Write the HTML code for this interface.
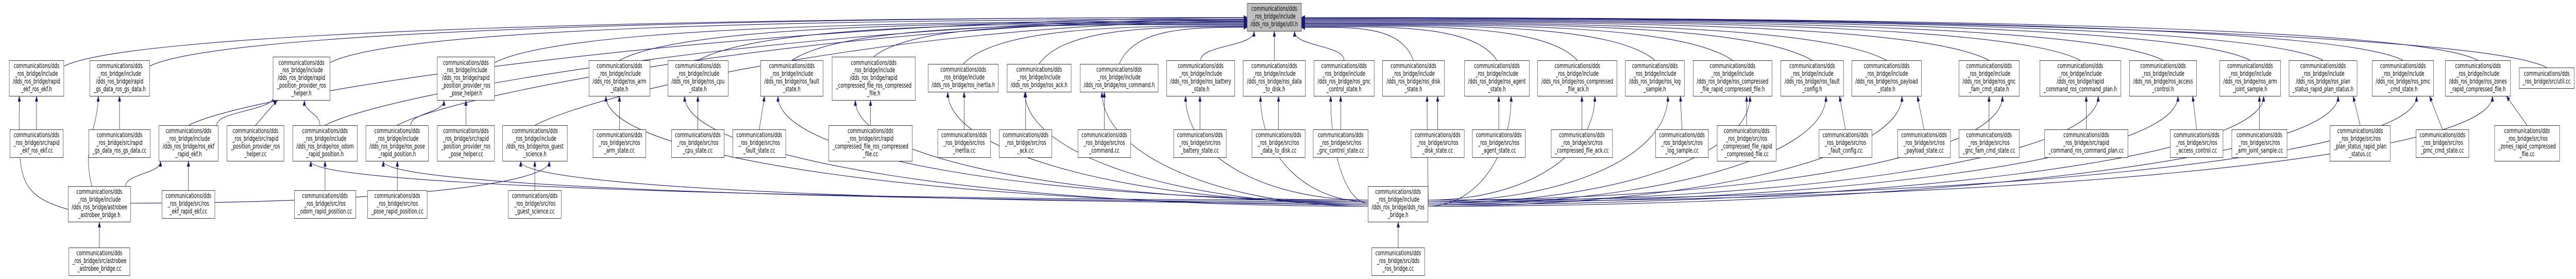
<!DOCTYPE html>
<html><head><meta charset="utf-8">
<style>
html,body{margin:0;padding:0;background:#fff;overflow:hidden;}
#c{position:absolute;left:0;top:0;width:7608px;height:541px;overflow:hidden;background:#fff;transform-origin:0 0;}
svg{position:absolute;left:0;top:0;display:block;}
.n{position:absolute;box-sizing:border-box;border:1px solid #333;background:#fff;display:flex;align-items:center;justify-content:center;text-align:center;white-space:pre;font:13px/14.8px "DejaVu Sans","Liberation Sans",sans-serif;color:#000;overflow:hidden;}
.g{background:#bfbfbf;border-color:#404040;}
.h2{height:41px}.h3{height:55px}.h4{height:70px}.h5{height:85px}
.B2{top:131px}.B3{top:124px}.B4{top:117px}.B5{top:110px}
.C3{top:251px}.C4{top:243px}.D3{top:369px}.D4{top:361px}.E3{top:480px}
</style></head><body><div id="c">
<svg id="s" width="7608" height="541" viewBox="0 0 7608 541" xmlns="http://www.w3.org/2000/svg">
<defs><marker id="a" viewBox="0 0 10 8" refX="10" refY="4" markerWidth="10" markerHeight="8" markerUnits="userSpaceOnUse" orient="auto"><path d="M0,0 L10,4 L0,8 z" fill="#191970" stroke="#191970"/></marker></defs>
<g id="eg" fill="none" stroke="#191970" stroke-width="1.1"></g>
</svg>

<div class="n g" id="U" style="left:3683px;top:6px;width:161px;height:55px">communications/dds
_ros_bridge/include
/dds_ros_bridge/util.h</div>

<div class="n h4 B4" id="b1" style="left:27px;width:162px">communications/dds
_ros_bridge/include
/dds_ros_bridge/rapid
_ekf_ros_ekf.h</div>
<div class="n h4 B4" id="b2" style="left:265px;width:177px">communications/dds
_ros_bridge/include
/dds_ros_bridge/rapid
_gs_data_ros_gs_data.h</div>
<div class="n h5 B5" id="b3" style="left:806px;width:169px">communications/dds
_ros_bridge/include
/dds_ros_bridge/rapid
_position_provider_ros
_helper.h</div>
<div class="n h5 B5" id="b4" style="left:1291px;width:170px">communications/dds
_ros_bridge/include
/dds_ros_bridge/rapid
_position_provider_ros
_pose_helper.h</div>
<div class="n h4 B4" id="b5" style="left:1739px;width:181px">communications/dds
_ros_bridge/include
/dds_ros_bridge/ros_arm
_state.h</div>
<div class="n h4 B4" id="b6" style="left:1972px;width:179px">communications/dds
_ros_bridge/include
/dds_ros_bridge/ros_cpu
_state.h</div>
<div class="n h4 B4" id="b7" style="left:2246px;width:185px">communications/dds
_ros_bridge/include
/dds_ros_bridge/ros_fault
_state.h</div>
<div class="n h5 B5" id="b8" style="left:2457px;width:247px">communications/dds
_ros_bridge/include
/dds_ros_bridge/rapid
_compressed_file_ros_compressed
_file.h</div>
<div class="n h3 B3" id="b9" style="left:2741px;width:208px">communications/dds
_ros_bridge/include
/dds_ros_bridge/ros_inertia.h</div>
<div class="n h3 B3" id="b10" style="left:2974px;width:190px">communications/dds
_ros_bridge/include
/dds_ros_bridge/ros_ack.h</div>
<div class="n h3 B3" id="b11" style="left:3190px;width:231px">communications/dds
_ros_bridge/include
/dds_ros_bridge/ros_command.h</div>
<div class="n h4 B4" id="b12" style="left:3445px;width:202px">communications/dds
_ros_bridge/include
/dds_ros_bridge/ros_battery
_state.h</div>
<div class="n h4 B4" id="b13" style="left:3671px;width:185px">communications/dds
_ros_bridge/include
/dds_ros_bridge/ros_data
_to_disk.h</div>
<div class="n h4 B4" id="b14" style="left:3880px;width:179px">communications/dds
_ros_bridge/include
/dds_ros_bridge/ros_gnc
_control_state.h</div>
<div class="n h4 B4" id="b15" style="left:4083px;width:183px">communications/dds
_ros_bridge/include
/dds_ros_bridge/ros_disk
_state.h</div>
<div class="n h4 B4" id="b16" style="left:4325px;width:192px">communications/dds
_ros_bridge/include
/dds_ros_bridge/ros_agent
_state.h</div>
<div class="n h4 B4" id="b17" style="left:4541px;width:235px">communications/dds
_ros_bridge/include
/dds_ros_bridge/ros_compressed
_file_ack.h</div>
<div class="n h4 B4" id="b18" style="left:4800px;width:175px">communications/dds
_ros_bridge/include
/dds_ros_bridge/ros_log
_sample.h</div>
<div class="n h4 B4" id="b19" style="left:5000px;width:234px">communications/dds
_ros_bridge/include
/dds_ros_bridge/ros_compressed
_file_rapid_compressed_file.h</div>
<div class="n h4 B4" id="b20" style="left:5259px;width:186px">communications/dds
_ros_bridge/include
/dds_ros_bridge/ros_fault
_config.h</div>
<div class="n h4 B4" id="b21" style="left:5469px;width:206px">communications/dds
_ros_bridge/include
/dds_ros_bridge/ros_payload
_state.h</div>
<div class="n h4 B4" id="b22" style="left:5785px;width:179px">communications/dds
_ros_bridge/include
/dds_ros_bridge/ros_gnc
_fam_cmd_state.h</div>
<div class="n h4 B4" id="b23" style="left:6024px;width:240px">communications/dds
_ros_bridge/include
/dds_ros_bridge/rapid
_command_ros_command_plan.h</div>
<div class="n h4 B4" id="b24" style="left:6289px;width:199px">communications/dds
_ros_bridge/include
/dds_ros_bridge/ros_access
_control.h</div>
<div class="n h4 B4" id="b25" style="left:6555px;width:181px">communications/dds
_ros_bridge/include
/dds_ros_bridge/ros_arm
_joint_sample.h</div>
<div class="n h4 B4" id="b26" style="left:6760px;width:202px">communications/dds
_ros_bridge/include
/dds_ros_bridge/ros_plan
_status_rapid_plan_status.h</div>
<div class="n h4 B4" id="b27" style="left:7006px;width:182px">communications/dds
_ros_bridge/include
/dds_ros_bridge/ros_pmc
_cmd_state.h</div>
<div class="n h4 B4" id="b28" style="left:7222px;width:193px">communications/dds
_ros_bridge/include
/dds_ros_bridge/ros_zones
_rapid_compressed_file.h</div>
<div class="n h2 B2" id="b29" style="left:7440px;width:163px">communications/dds
_ros_bridge/src/util.cc</div>

<div class="n h3 C3" id="c1" style="left:29px;width:158px">communications/dds
_ros_bridge/src/rapid
_ekf_ros_ekf.cc</div>
<div class="n h3 C3" id="c2" style="left:262px;width:182px">communications/dds
_ros_bridge/src/rapid
_gs_data_ros_gs_data.cc</div>
<div class="n h4 C4" id="c3" style="left:469px;width:176px">communications/dds
_ros_bridge/include
/dds_ros_bridge/ros_ekf
_rapid_ekf.h</div>
<div class="n h4 C4" id="c4" style="left:670px;width:169px">communications/dds
_ros_bridge/src/rapid
_position_provider_ros
_helper.cc</div>
<div class="n h4 C4" id="c5" style="left:864px;width:192px">communications/dds
_ros_bridge/include
/dds_ros_bridge/ros_odom
_rapid_position.h</div>
<div class="n h4 C4" id="c6" style="left:1080px;width:186px">communications/dds
_ros_bridge/include
/dds_ros_bridge/ros_pose
_rapid_position.h</div>
<div class="n h4 C4" id="c7" style="left:1291px;width:170px">communications/dds
_ros_bridge/src/rapid
_position_provider_ros
_pose_helper.cc</div>
<div class="n h4 C4" id="c8" style="left:1484px;width:192px">communications/dds
_ros_bridge/include
/dds_ros_bridge/ros_guest
_science.h</div>
<div class="n h3 C3" id="c9" style="left:1751px;width:157px">communications/dds
_ros_bridge/src/ros
_arm_state.cc</div>
<div class="n h3 C3" id="c10" style="left:1983px;width:156px">communications/dds
_ros_bridge/src/ros
_cpu_state.cc</div>
<div class="n h3 C3" id="c11" style="left:2164px;width:157px">communications/dds
_ros_bridge/src/ros
_fault_state.cc</div>
<div class="n h4 C4" id="c12" style="left:2447px;width:248px">communications/dds
_ros_bridge/src/rapid
_compressed_file_ros_compressed
_file.cc</div>
<div class="n h3 C3" id="c13" style="left:2769px;width:157px">communications/dds
_ros_bridge/src/ros
_inertia.cc</div>
<div class="n h3 C3" id="c14" style="left:2951px;width:156px">communications/dds
_ros_bridge/src/ros
_ack.cc</div>
<div class="n h3 C3" id="c15" style="left:3183px;width:157px">communications/dds
_ros_bridge/src/ros
_command.cc</div>
<div class="n h3 C3" id="c16" style="left:3466px;width:156px">communications/dds
_ros_bridge/src/ros
_battery_state.cc</div>
<div class="n h3 C3" id="c17" style="left:3697px;width:158px">communications/dds
_ros_bridge/src/ros
_data_to_disk.cc</div>
<div class="n h3 C3" id="c18" style="left:3878px;width:163px">communications/dds
_ros_bridge/src/ros
_gnc_control_state.cc</div>
<div class="n h3 C3" id="c19" style="left:4167px;width:158px">communications/dds
_ros_bridge/src/ros
_disk_state.cc</div>
<div class="n h3 C3" id="c20" style="left:4348px;width:157px">communications/dds
_ros_bridge/src/ros
_agent_state.cc</div>
<div class="n h3 C3" id="c21" style="left:4581px;width:182px">communications/dds
_ros_bridge/src/ros
_compressed_file_ack.cc</div>
<div class="n h3 C3" id="c22" style="left:4889px;width:157px">communications/dds
_ros_bridge/src/ros
_log_sample.cc</div>
<div class="n h4 C4" id="c23" style="left:5071px;width:175px">communications/dds
_ros_bridge/src/ros
_compressed_file_rapid
_compressed_file.cc</div>
<div class="n h3 C3" id="c24" style="left:5372px;width:157px">communications/dds
_ros_bridge/src/ros
_fault_config.cc</div>
<div class="n h3 C3" id="c25" style="left:5604px;width:157px">communications/dds
_ros_bridge/src/ros
_payload_state.cc</div>
<div class="n h3 C3" id="c26" style="left:5785px;width:179px">communications/dds
_ros_bridge/src/ros
_gnc_fam_cmd_state.cc</div>
<div class="n h3 C3" id="c27" style="left:6038px;width:247px">communications/dds
_ros_bridge/src/rapid
_command_ros_command_plan.cc</div>
<div class="n h3 C3" id="c28" style="left:6409px;width:157px">communications/dds
_ros_bridge/src/ros
_access_control.cc</div>
<div class="n h3 C3" id="c29" style="left:6591px;width:164px">communications/dds
_ros_bridge/src/ros
_arm_joint_sample.cc</div>
<div class="n h4 C4" id="c30" style="left:6881px;width:179px">communications/dds
_ros_bridge/src/ros
_plan_status_rapid_plan
_status.cc</div>
<div class="n h3 C3" id="c31" style="left:7135px;width:157px">communications/dds
_ros_bridge/src/ros
_pmc_cmd_state.cc</div>
<div class="n h4 C4" id="c32" style="left:7367px;width:193px">communications/dds
_ros_bridge/src/ros
_zones_rapid_compressed
_file.cc</div>

<div class="n h4 D4" id="d1" style="left:201px;width:185px">communications/dds
_ros_bridge/include
/dds_ros_bridge/astrobee
_astrobee_bridge.h</div>
<div class="n h3 D3" id="d2" style="left:478px;width:157px">communications/dds
_ros_bridge/src/ros
_ekf_rapid_ekf.cc</div>
<div class="n h3 D3" id="d3" style="left:869px;width:182px">communications/dds
_ros_bridge/src/ros
_odom_rapid_position.cc</div>
<div class="n h3 D3" id="d4" style="left:1085px;width:177px">communications/dds
_ros_bridge/src/ros
_pose_rapid_position.cc</div>
<div class="n h3 D3" id="d5" style="left:1501px;width:157px">communications/dds
_ros_bridge/src/ros
_guest_science.cc</div>
<div class="n h4 D4" id="d6" style="left:4040px;width:178px">communications/dds
_ros_bridge/include
/dds_ros_bridge/dds_ros
_bridge.h</div>
<div class="n h3 E3" id="e1" style="left:203px;width:181px">communications/dds
_ros_bridge/src/astrobee
_astrobee_bridge.cc</div>
<div class="n h3 E3" id="e2" style="left:4051px;width:157px">communications/dds
_ros_bridge/src/dds
_ros_bridge.cc</div>
</div>
<script>
(function(){
var g=document.getElementById('eg');
function B(id){var e=document.getElementById(id);var l=e.offsetLeft,t=e.offsetTop,w=e.offsetWidth,h=e.offsetHeight;return{l:l,t:t,r:l+w,b:t+h,w:w,h:h,cx:l+w/2,cy:t+h/2};}
function P(d){var p=document.createElementNS('http://www.w3.org/2000/svg','path');p.setAttribute('d',d);p.setAttribute('marker-end','url(#a)');g.appendChild(p);}
function f(v){return v.toFixed(1);}
function sc(sx,sy,tx,ty){var my=(sy+ty)/2;P('M'+f(sx)+','+f(sy)+' C'+f(sx)+','+f(my)+' '+f(tx)+','+f(my)+' '+f(tx)+','+f(ty));}
var U=B('U');
var us=[];for(var i=1;i<=29;i++)us.push('b'+i);us.push('c3','c5','c6','c8');
us.forEach(function(id){
 var S=B(id);var sx=S.cx,sy=S.t;
 if(id=='b1'||id=='b2'||id=='b3'||id=='b4'){sx=S.r-2;sy=S.t+12;}
 var dx=U.cx-sx;
 if(Math.abs(dx)<250){
  var ex=U.cx+Math.max(-60,Math.min(60,-dx*0.4));var ey=U.b;
  P('M'+f(sx)+','+f(sy)+' C'+f(sx)+','+f(sy-30)+' '+f(ex)+','+f(ey+30)+' '+f(ex)+','+f(ey));
 }else{
  var sg=dx>0?1:-1;var ex=sg>0?U.l:U.r;
  var ey=U.t+50-Math.min(22,Math.abs(dx)/150);
  var adx=Math.abs(ex-sx);
  P('M'+f(sx)+','+f(sy)+' C'+f(sx+sg*Math.min(adx*0.12,200))+','+f(sy-70)+' '+f(ex-sg*adx*0.45)+','+f(ey)+' '+f(ex)+','+f(ey));
 }
});
function st(a,b){var S=B(a),T=B(b);var tx=Math.max(T.l+12,Math.min(T.r-12,S.cx));P('M'+f(S.cx)+','+f(S.t)+' L'+f(tx)+','+f(T.b));}
[['c1','b1'],['c2','b2'],['c4','b3'],['c7','b4'],['d2','c3'],['d3','c5'],['d4','c6'],['d5','c8'],['e1','d1'],['e2','d6']].forEach(function(p){st(p[0],p[1]);});
for(var k=9;k<=32;k++){st('c'+k,'b'+(k-4));}
var c3=B('c3'),c5=B('c5'),c6=B('c6'),b3=B('b3'),b4=B('b4');
sc(c3.r-5,c3.t,b3.l+2,b3.b-8);
sc(c5.cx-15,c5.t,b3.l+b3.w*0.55,b3.b);
sc(c6.cx+40,c6.t,b4.l+20,b4.b);
function hub(src,tgt,idx){
 var S=B(src),T=B(tgt);var dx=T.cx-S.cx;var sg=dx>0?1:-1;
 var sx=sg<0?S.l:S.r;var sy=S.cy-8+(idx%5)*3;
 var tx=T.cx+sg*T.w*0.22;var ty=T.b;
 var adx=Math.abs(tx-sx);var c2y=ty+Math.min(120,(sy-ty)*0.6);
 P('M'+f(sx)+','+f(sy)+' C'+f(sx+sg*adx*0.55)+','+f(sy)+' '+f(tx)+','+f(c2y)+' '+f(tx)+','+f(ty));
}
var dt=['c5','c6','c8'];for(var j=5;j<=28;j++)dt.push('b'+j);
dt.forEach(function(t,i){hub('d6',t,i);});
var d1=B('d1'),b1=B('b1'),b2=B('b2');
P('M'+f(d1.l)+','+f(d1.cy+10)+' C'+f(d1.l-160)+','+f(d1.cy-20)+' '+f(b1.l+30)+','+f(b1.b+150)+' '+f(b1.l+30)+','+f(b1.b));
P('M'+f(d1.l+70)+','+f(d1.t)+' C'+f(d1.l+40)+','+f(d1.t-80)+' '+f(b2.l+25)+','+f(b2.b+60)+' '+f(b2.l+25)+','+f(b2.b));
sc(d1.r-15,d1.t,c3.l+5,c3.b);
hub('d1','c8',2);
// fit to viewport if the viewport is smaller than the diagram
var W=window.innerWidth||document.documentElement.clientWidth||7608;
var H=window.innerHeight||document.documentElement.clientHeight||541;
var sx=W<7600?W/7608:1, sy=H<536?H/541:1;
if(sx!==1||sy!==1){document.getElementById('c').style.transform='scale('+sx+','+sy+')';}
})();
</script>
</body></html>
